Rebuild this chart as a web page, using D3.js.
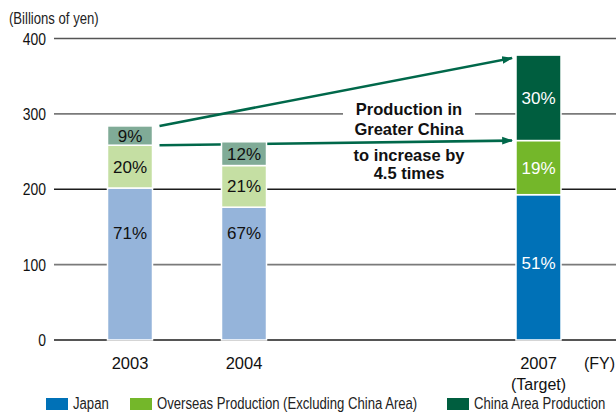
<!DOCTYPE html>
<html>
<head>
<meta charset="utf-8">
<script src="https://cdn.jsdelivr.net/npm/d3@7"></script>
<style>
  html, body { margin: 0; padding: 0; background: #fff; }
  svg { display: block; }
</style>
</head>
<body>
<svg id="chart" width="616" height="412"></svg>
<script>
// Production by area, billions of yen, with each area's share of the year's total
const years = ["2003", "2004", "2007"];
const yearValues = [2003, 2004, 2007];
const yearSubLabels = ["", "", "(Target)"];
const totals = [284, 263, 378];
const seriesNames = ["Japan", "Overseas Production (Excluding China Area)", "China Area Production"];
const japanShare = [71, 67, 51];
const overseasShare = [20, 21, 19];
const chinaShare = [9, 12, 30];
const yTicks = [0, 100, 200, 300, 400];
const calloutLines = ["Production in", "Greater China", "to increase by", "4.5 times"];

// Colours: muted tones for actual years, full tones for the target year
const actualColors = ["#95b4da", "#c5dfa3", "#80ab97"];
const targetColors = ["#0071b7", "#74b72a", "#005e3f"];
const arrowColor = "#00684a";

const svg = d3.select("#chart");
const sans = "'Liberation Sans', Arial, Helvetica, sans-serif";
const narrowScale = 0.82;   // condensed look for axis title, ticks and legend

const y = d3.scaleLinear().domain([0, 400]).range([340, 38.5]);
const x = d3.scaleLinear().domain([2003, 2004, 2007]).range([130, 244, 538.5]);
const barW = 45;
const plotLeft = 54, plotRight = 616;

// Stack the three shares into value segments
const shares = [japanShare, overseasShare, chinaShare];
const bars = years.map((yr, i) => {
  let base = 0;
  const segs = shares.map((s, k) => {
    const v = totals[i] * s[i] / 100;
    const seg = { k, y0: base, y1: base + v, share: s[i] };
    base += v;
    return seg;
  });
  return { yr, fy: yearValues[i], target: yearSubLabels[i] !== "", segs };
});

// Gridlines
const gridStyle = v => (v === 0 || v === 200)
  ? { c: "#1c1c1c", w: 1.3 }
  : { c: v === 400 ? "#555" : "#7a7a7a", w: 1.7 };
svg.append("g").selectAll("line").data(yTicks).join("line")
  .attr("x1", plotLeft).attr("x2", plotRight)
  .attr("y1", d => y(d)).attr("y2", d => y(d))
  .attr("stroke", d => gridStyle(d).c)
  .attr("stroke-width", d => gridStyle(d).w);

// Tick labels (horizontally condensed)
svg.append("g").selectAll("text").data(yTicks).join("text")
  .attr("transform", d => `translate(46,${y(d)}) scale(${narrowScale},1)`)
  .attr("dy", "0.36em")
  .attr("text-anchor", "end")
  .attr("font-family", sans).attr("font-size", 17)
  .attr("fill", "#111")
  .text(d => d);

svg.append("text")
  .attr("transform", `translate(9,24) scale(${narrowScale},1)`)
  .attr("font-family", sans).attr("font-size", 16)
  .attr("fill", "#222")
  .text("(Billions of yen)");

// White panel behind the callout text
const calloutX = 409;
svg.append("rect")
  .attr("x", 343).attr("y", 98).attr("width", 132).attr("height", 84)
  .attr("fill", "#fff");

// Arrows from the 2003 China segment to the 2007 China segment
const defs = svg.append("defs");
defs.append("marker")
  .attr("id", "head").attr("viewBox", "0 0 10 10")
  .attr("refX", 9).attr("refY", 5)
  .attr("markerWidth", 4.2).attr("markerHeight", 4.2)
  .attr("markerUnits", "strokeWidth")
  .attr("orient", "auto")
  .append("path").attr("d", "M0,1.5 L10,5 L0,8.5 Z").attr("fill", arrowColor);

const first = bars[0], last = bars[2];
const china0 = first.segs[2], china1 = last.segs[2];
const arrows = [
  { from: china0.y1, to: china1.y1, off: 3 },
  { from: china0.y0, to: china1.y0, off: 0 }
];
svg.append("g").selectAll("line").data(arrows).join("line")
  .attr("x1", x(first.fy) + barW / 2 + 7)
  .attr("y1", d => y(d.from))
  .attr("x2", x(last.fy) - barW / 2 - 4)
  .attr("y2", d => y(d.to) + d.off)
  .attr("stroke", arrowColor)
  .attr("stroke-width", 2.6)
  .attr("marker-end", "url(#head)");

// Stacked bars
const gBars = svg.append("g").selectAll("g").data(bars).join("g");
gBars.selectAll("rect").data(d => d.segs.map(s => ({ ...s, bar: d }))).join("rect")
  .attr("x", d => x(d.bar.fy) - barW / 2)
  .attr("width", barW)
  .attr("y", d => y(d.y1))
  .attr("height", d => y(d.y0) - y(d.y1))
  .attr("fill", d => (d.bar.target ? targetColors : actualColors)[d.k])
  .attr("stroke", "#fff").attr("stroke-width", 1.5);

// Share labels; the Japan label sits in the upper part of its segment
const japanLabelDepth = { 2003: 0.296, 2004: 0.194, 2007: 0.47 };
const labelValue = d => d.k === 0
  ? d.y1 - (d.y1 - d.y0) * japanLabelDepth[d.bar.fy]
  : (d.y0 + d.y1) / 2;
gBars.selectAll("text").data(d => d.segs.map(s => ({ ...s, bar: d }))).join("text")
  .attr("x", d => x(d.bar.fy))
  .attr("y", d => y(labelValue(d)))
  .attr("dy", "0.36em")
  .attr("text-anchor", "middle")
  .attr("font-family", sans).attr("font-size", 17)
  .attr("fill", d => d.bar.target ? "#fff" : "#111")
  .text(d => d.share + "%");

// Callout text
const calloutBaselines = [115, 134.5, 160.5, 178.5];
svg.append("g").selectAll("text").data(calloutLines).join("text")
  .attr("x", calloutX)
  .attr("y", (d, i) => calloutBaselines[i])
  .attr("text-anchor", "middle")
  .attr("font-family", sans).attr("font-size", 16.5).attr("font-weight", "bold")
  .attr("fill", "#111")
  .text(d => d);

// Category labels
const gx = svg.append("g").selectAll("g").data(bars).join("g");
gx.append("text")
  .attr("x", d => x(d.fy)).attr("y", 368.5)
  .attr("text-anchor", "middle")
  .attr("font-family", sans).attr("font-size", 16.5)
  .attr("fill", "#111")
  .text(d => d.yr);
gx.filter(d => d.target).append("text")
  .attr("x", d => x(d.fy)).attr("y", 390)
  .attr("text-anchor", "middle")
  .attr("font-family", sans).attr("font-size", 16)
  .attr("fill", "#111")
  .text(d => yearSubLabels[years.indexOf(d.yr)]);
svg.append("text")
  .attr("x", 615).attr("y", 368.5)
  .attr("text-anchor", "end")
  .attr("font-family", sans).attr("font-size", 16)
  .attr("fill", "#111")
  .text("(FY)");

// Legend
const legendX = [46, 130, 447];
const lg = svg.append("g").selectAll("g").data(seriesNames).join("g")
  .attr("transform", (d, i) => `translate(${legendX[i]},398)`);
lg.append("rect").attr("width", 22).attr("height", 12)
  .attr("fill", (d, i) => targetColors[i]);
lg.append("text")
  .attr("transform", `translate(27,11) scale(${narrowScale},1)`)
  .attr("font-family", sans).attr("font-size", 16)
  .attr("fill", "#222")
  .text(d => d);
</script>
</body>
</html>
